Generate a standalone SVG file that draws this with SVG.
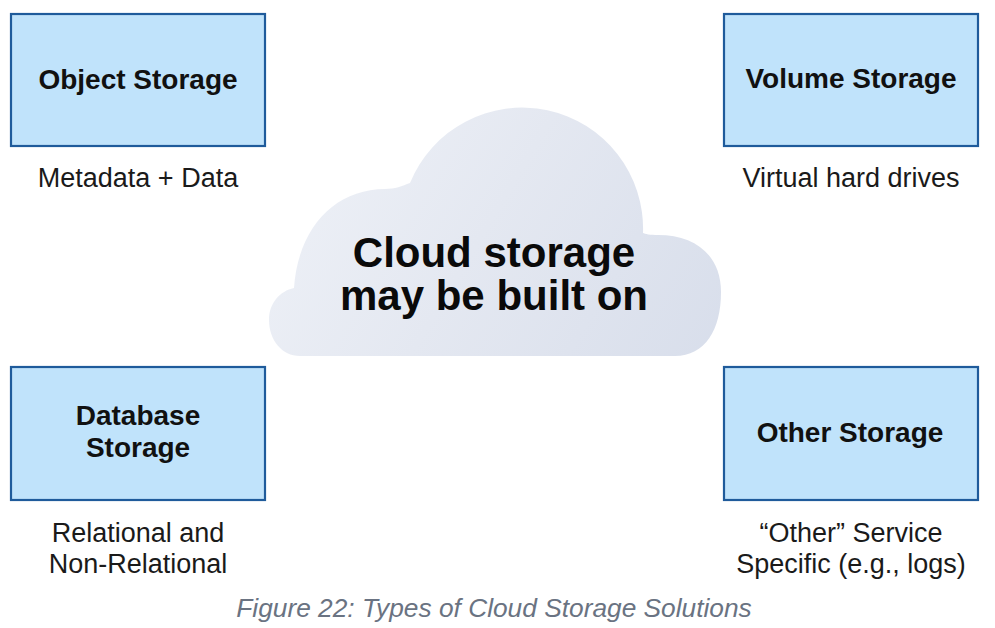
<svg xmlns="http://www.w3.org/2000/svg" width="995" height="628" viewBox="0 0 995 628">
  <style>
    .box { fill: #c0e3fb; stroke: #1f5b9b; stroke-width: 2.2; }
    .label { font-family: "Liberation Sans", Arial, sans-serif; font-weight: bold; font-size: 28px; fill: #111; text-anchor: middle; }
    .desc { font-family: "Liberation Sans", Arial, sans-serif; font-size: 27px; fill: #1a1a1a; text-anchor: middle; }
    .center { font-family: "Liberation Sans", Arial, sans-serif; font-weight: bold; font-size: 42px; fill: #0a0a0a; text-anchor: middle; }
    .caption { font-family: "Liberation Sans", Arial, sans-serif; font-style: italic; font-size: 26.3px; fill: #6a7382; text-anchor: middle; }
  </style>
  <defs>
    <linearGradient id="cloudGrad" gradientUnits="userSpaceOnUse" x1="300" y1="110" x2="720" y2="360">
      <stop offset="0" stop-color="#eef1f7"/>
      <stop offset="0.45" stop-color="#e4e8f1"/>
      <stop offset="1" stop-color="#d8deeb"/>
    </linearGradient>
  </defs>
  <rect width="995" height="628" fill="#ffffff"/>

  <g id="cloud">
    <path fill="url(#cloudGrad)" d="M 300 356 C 282 356 269 340 269 320 C 269 303 280 291 294 288 C 298 228 335 189 385 189 C 395 189 402 186 410 183 A 121 121 0 0 1 643 233 C 645 234 650 235 658 235 C 695 235 721 255 721 292 C 721 330 705 356 675 356 Z"/>
    <text class="center" x="494" y="267">Cloud storage</text>
    <text class="center" x="494" y="310">may be built on</text>
  </g>

  <g id="object-storage">
    <rect class="box" x="11" y="14" width="254" height="132"/>
    <text class="label" x="138" y="89">Object Storage</text>
    <text class="desc" x="138" y="187">Metadata + Data</text>
  </g>

  <g id="volume-storage">
    <rect class="box" x="724" y="14" width="254" height="132"/>
    <text class="label" x="851" y="88">Volume Storage</text>
    <text class="desc" x="851" y="187">Virtual hard drives</text>
  </g>

  <g id="database-storage">
    <rect class="box" x="11" y="367" width="254" height="133"/>
    <text class="label" x="138" y="425">Database</text>
    <text class="label" x="138" y="457">Storage</text>
    <text class="desc" x="138" y="542">Relational and</text>
    <text class="desc" x="138" y="573">Non-Relational</text>
  </g>

  <g id="other-storage">
    <rect class="box" x="724" y="367" width="254" height="133"/>
    <text class="label" x="850" y="442">Other Storage</text>
    <text class="desc" x="851" y="542">“Other” Service</text>
    <text class="desc" x="851" y="573">Specific (e.g., logs)</text>
  </g>

  <g id="connectors"></g>

  <text class="caption" x="494" y="617">Figure 22: Types of Cloud Storage Solutions</text>
</svg>
